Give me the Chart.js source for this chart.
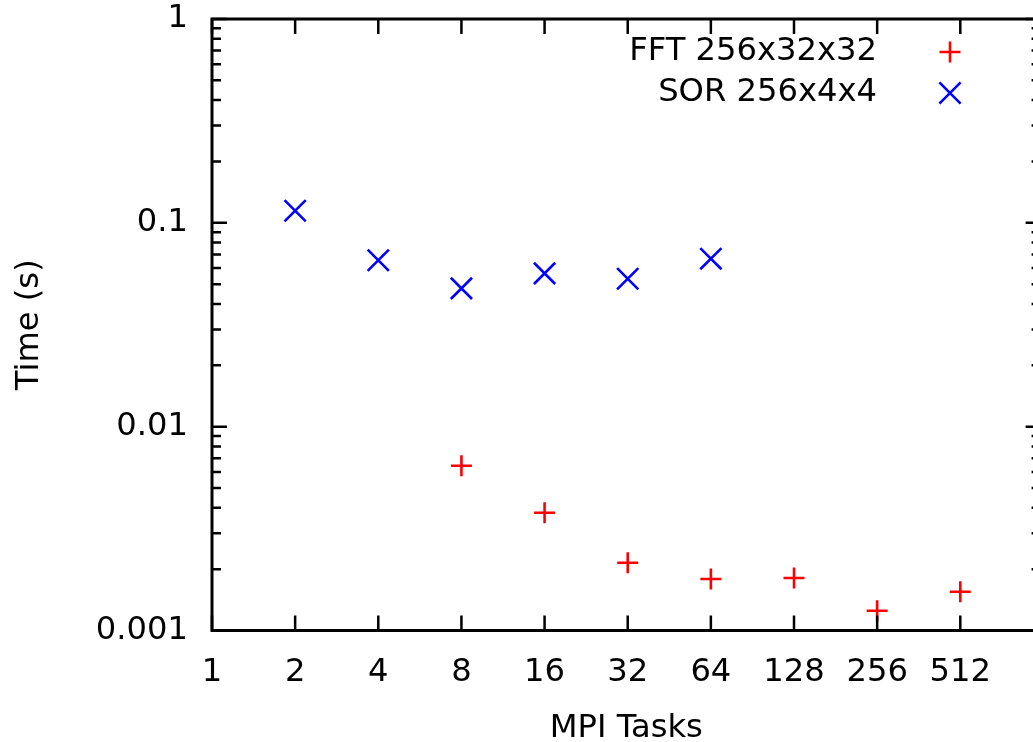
<!DOCTYPE html>
<html>
<head>
<meta charset="utf-8">
<script src="https://cdn.jsdelivr.net/npm/chart.js@4/dist/chart.umd.min.js"></script>
<style>
  html, body { margin: 0; padding: 0; background: #fff; overflow: hidden; }
  #wrap { width: 1100px; height: 742px; }
</style>
</head>
<body>
<div id="wrap"><canvas id="c" width="1100" height="742"></canvas></div>
<script>
// data
const tasks = [1, 2, 4, 8, 16, 32, 64, 128, 256, 512];
const timeTicks = [0.001, 0.01, 0.1, 1];
const fftTasks = [8, 16, 32, 64, 128, 256, 512];
const fftTime = [0.00643, 0.00378, 0.00215, 0.00179, 0.00181, 0.00125, 0.00155];
const sorTasks = [2, 4, 8, 16, 32, 64];
const sorTime = [0.1147, 0.0655, 0.0477, 0.0565, 0.0532, 0.0667];
const seriesNames = ['FFT 256x32x32', 'SOR 256x4x4'];

const FONT = { family: "'DejaVu Sans', sans-serif", size: 32.2 };

// gnuplot style frame + inward ticks on all four sides
const framePlugin = {
  id: 'frame',
  afterDraw(chart) {
    const { ctx, chartArea: a, scales: { x, y } } = chart;
    ctx.save();
    ctx.strokeStyle = '#000';
    ctx.lineCap = 'butt';
    ctx.lineWidth = 2.5;
    ctx.beginPath();
    tasks.forEach(v => {
      const px = x.getPixelForValue(v);
      ctx.moveTo(px, a.bottom); ctx.lineTo(px, a.bottom - 15);
      ctx.moveTo(px, a.top); ctx.lineTo(px, a.top + 15);
    });
    for (let d = -3; d <= 0; d++) {
      for (let k = 1; k <= 9; k++) {
        const v = k * Math.pow(10, d);
        if (v > 1) break;
        const py = y.getPixelForValue(v);
        const len = k === 1 ? 15 : 9;
        ctx.moveTo(a.left, py); ctx.lineTo(a.left + len, py);
        ctx.moveTo(a.right, py); ctx.lineTo(a.right - len, py);
      }
    }
    ctx.stroke();
    ctx.lineWidth = 3;
    ctx.strokeRect(a.left, a.top, a.right - a.left, a.bottom - a.top);

    // key, top right
    const rows = [[52, 0], [93, 1]];
    ctx.font = `${FONT.size}px ${FONT.family}`;
    ctx.fillStyle = '#000';
    ctx.textAlign = 'right';
    ctx.textBaseline = 'middle';
    rows.forEach(([py, i]) => {
      const ds = chart.data.datasets[i];
      ctx.fillText(seriesNames[i], 877, py);
      ctx.strokeStyle = ds.borderColor;
      ctx.lineWidth = ds.pointBorderWidth;
      Chart.helpers.drawPoint(ctx, { pointStyle: ds.pointStyle, radius: ds.pointRadius, rotation: 0, borderWidth: ds.pointBorderWidth }, 950, py);
    });
    ctx.restore();
  }
};

new Chart(document.getElementById('c'), {
  type: 'scatter',
  data: {
    datasets: [
      {
        label: seriesNames[0],
        data: fftTasks.map((t, i) => ({ x: t, y: fftTime[i] })),
        pointStyle: 'cross', pointRadius: 10.5, pointBorderWidth: 2.6,
        borderColor: '#ff0000', backgroundColor: '#ff0000'
      },
      {
        label: seriesNames[1],
        data: sorTasks.map((t, i) => ({ x: t, y: sorTime[i] })),
        pointStyle: 'crossRot', pointRadius: 15, pointBorderWidth: 2.6,
        borderColor: '#0000ff', backgroundColor: '#0000ff'
      }
    ]
  },
  options: {
    responsive: false,
    animation: false,
    layout: { padding: { top: 19, right: 59.4, left: 0, bottom: 0 } },
    plugins: { legend: { display: false }, tooltip: { enabled: false } },
    scales: {
      x: {
        type: 'logarithmic', min: 1, max: 1000,
        afterBuildTicks: s => { s.ticks = tasks.map(v => ({ value: v })); },
        afterFit: s => { s.height = 111.5; s.paddingLeft = 0; s.paddingRight = 0; },
        ticks: { color: '#000', font: FONT, padding: 23, maxRotation: 0, autoSkip: false, callback: v => String(v) },
        grid: { display: false, drawTicks: false },
        border: { display: false },
        title: { display: true, text: 'MPI Tasks', color: '#000', font: { ...FONT, lineHeight: 0.82 }, padding: { top: 0, bottom: 0 } }
      },
      y: {
        type: 'logarithmic', min: 0.001, max: 1,
        afterBuildTicks: s => { s.ticks = timeTicks.map(v => ({ value: v })); },
        afterFit: s => { s.width = 212; s.paddingTop = 0; s.paddingBottom = 0; },
        ticks: { color: '#000', font: FONT, padding: 24, autoSkip: false, callback: v => String(v) },
        grid: { display: false, drawTicks: false },
        border: { display: false },
        title: { display: true, text: 'Time (s)', color: '#000', font: FONT, padding: { top: 10, bottom: 0 } }
      }
    }
  },
  plugins: [framePlugin]
});
</script>
</body>
</html>
